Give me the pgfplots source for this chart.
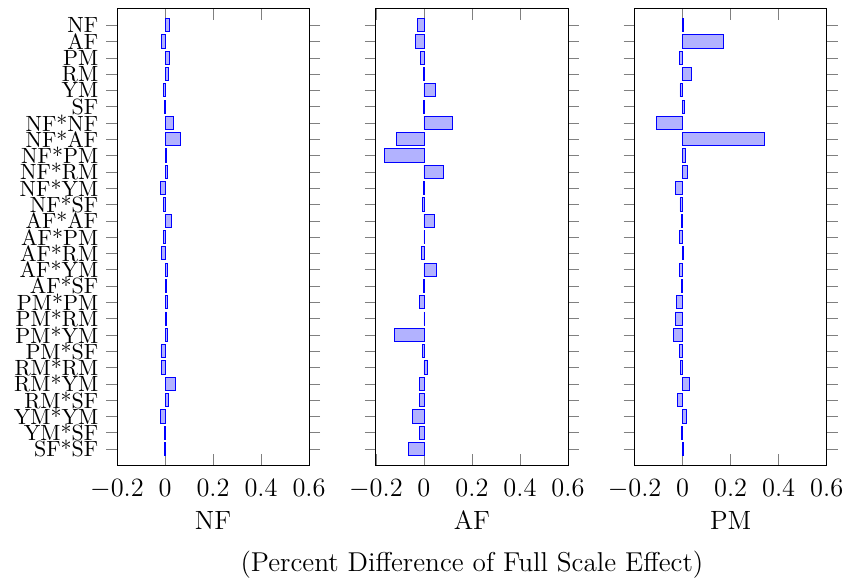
\documentclass[border=0pt]{standalone}
\usepackage{pgfplots}
\usepackage{pgfplotstable}
\pgfplotsset{compat=1.18}
\pgfplotstableread{
y v
0 0.018
1 -0.014
2 0.018
3 0.015
4 -0.005
5 -0.003
6 0.033
7 0.065
8 0.005
9 0.011
10 -0.02
11 -0.007
12 0.026
13 -0.008
14 -0.015
15 0.011
16 0.004
17 0.008
18 0.007
19 0.012
20 -0.017
21 -0.015
22 0.044
23 0.013
24 -0.018
25 -0.003
26 -0.002
}\tNF
\pgfplotstableread{
y v
0 -0.026
1 -0.036
2 -0.014
3 -0.002
4 0.046
5 -0.001
6 0.117
7 -0.113
8 -0.164
9 0.082
10 -0.002
11 -0.005
12 0.043
13 0.003
14 -0.012
15 0.050
16 -0.001
17 -0.020
18 0.003
19 -0.122
20 -0.008
21 0.015
22 -0.020
23 -0.019
24 -0.049
25 -0.018
26 -0.065
}\tAF
\pgfplotstableread{
y v
0 0.003
1 0.171
2 -0.015
3 0.036
4 -0.011
5 0.007
6 -0.110
7 0.340
8 0.010
9 0.022
10 -0.028
11 -0.011
12 -0.005
13 -0.012
14 0.005
15 -0.015
16 -0.003
17 -0.027
18 -0.031
19 -0.040
20 -0.012
21 -0.010
22 0.029
23 -0.021
24 0.015
25 -0.006
26 0.002
}\tPM
\pgfplotsset{
  panel/.style={
    scale only axis,
    width=87.3pt, height=207.5pt,
    xbar, bar width=6pt,
    xmin=-0.2, xmax=0.6, ymin=-1, ymax=27,
    y dir=reverse,
    ytick={0,...,26},
    ytick align=outside,
    major tick length=5pt,
    xtick={-0.2,0,0.2,0.4,0.6},
    xticklabel style={font=\large, yshift=-2.9pt},
    xlabel style={font=\large, at={(axis description cs:0.5,0)}, anchor=base, yshift=-29.1pt},
    clip=false,
  },
}
\begin{document}
\begin{tikzpicture}
\useasboundingbox (-53.2pt,-52.1pt) rectangle (331.4pt,211.5pt);
\begin{axis}[panel, at={(0pt,0pt)}, anchor=south west, xlabel={NF},
  yticklabels={NF,AF,PM,RM,YM,SF,NF*NF,NF*AF,NF*PM,NF*RM,NF*YM,NF*SF,AF*AF,AF*PM,AF*RM,AF*YM,AF*SF,PM*PM,PM*RM,PM*YM,PM*SF,RM*RM,RM*YM,RM*SF,YM*YM,YM*SF,SF*SF}]
\addplot[draw=blue, fill=blue!30] table[x=v, y=y] {\tNF};
\end{axis}
\begin{axis}[panel, at={(117.7pt,0pt)}, anchor=south west, xlabel={AF}, yticklabels={}]
\addplot[draw=blue, fill=blue!30] table[x=v, y=y] {\tAF};
\node[font=\fontsize{12.4}{15}\selectfont, anchor=base] at (axis description cs:0.5,0) [yshift=-48.3pt] {(Percent Difference of Full Scale Effect)};
\end{axis}
\begin{axis}[panel, at={(235.3pt,0pt)}, anchor=south west, xlabel={PM}, yticklabels={}]
\addplot[draw=blue, fill=blue!30] table[x=v, y=y] {\tPM};
\end{axis}
\end{tikzpicture}
\end{document}
